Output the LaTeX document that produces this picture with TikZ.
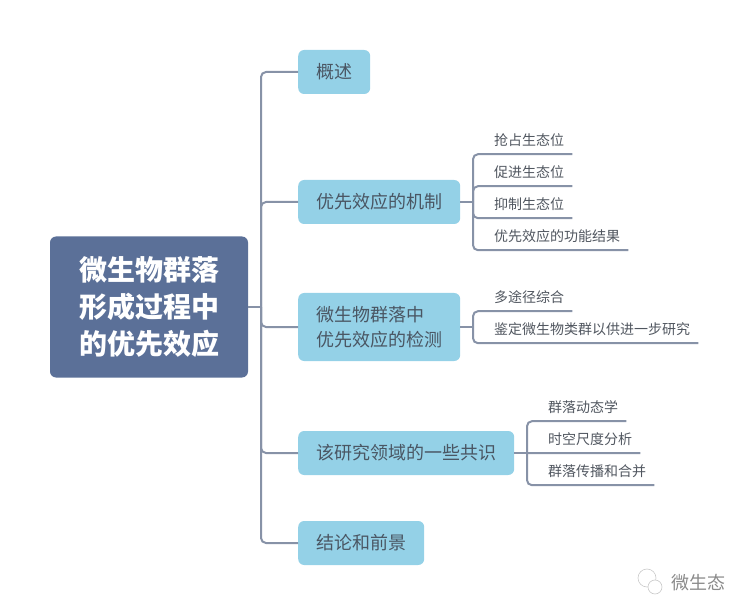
\documentclass[tikz,border=0pt]{standalone}
\usepackage{fontspec}
\setmainfont{Noto Sans CJK SC}
\usepackage{xcolor}
\definecolor{rootblue}{HTML}{5B7098}
\definecolor{topicblue}{HTML}{94D1E7}
\definecolor{linegrey}{HTML}{8792A7}
\definecolor{topictext}{HTML}{4A5663}
\definecolor{leaftext}{HTML}{50565F}
\definecolor{logogrey}{HTML}{8A8A8A}
\tikzset{
  root/.style={fill=rootblue,text=white,rounded corners=6pt,minimum width=198pt,minimum height=141pt,inner sep=0pt,align=center,font=\fontsize{28}{37}\selectfont\bfseries},
  topic/.style={fill=topicblue,text=topictext,rounded corners=6pt,anchor=west,minimum height=44pt,inner xsep=18pt,inner ysep=0pt,align=left,font=\fontsize{18}{25}\selectfont},
  leaf/.style={text=leaftext,anchor=west,minimum height=28pt,inner xsep=8pt,inner ysep=0pt,font=\fontsize{14}{14}\selectfont},
  branch/.style={draw=linegrey,line width=2pt,rounded corners=5pt},
  logotext/.style={text=logogrey,inner sep=0pt,font=\fontsize{18}{18}\selectfont},
  bubble/.style={draw=logogrey!45,line width=0.6pt,fill=white,inner sep=0pt}
}
\begin{document}
\begin{tikzpicture}[x=1pt,y=-1pt]
  \useasboundingbox (0,0) rectangle (748,615);

  \node[root] at (149,307) (rootbox){微生物群落\\形成过程中\\的优先效应};

  \node[topic] at (298,72) (intro){概述};
  \node[topic] at (298,202) (mech){优先效应的机制};
  \node[topic,minimum height=68pt] at (298,327) (detect){微生物群落中\\优先效应的检测};
  \node[topic] at (298,453) (shared){该研究领域的一些共识};
  \node[topic] at (298,543) (outlook){结论和前景};

  \node[leaf] at (486,140) (grab){抢占生态位};
  \node[leaf] at ([yshift=-32pt]grab.west) (promote){促进生态位};
  \node[leaf] at ([yshift=-32pt]promote.west) (inhibit){抑制生态位};
  \node[leaf] at ([yshift=-32pt]inhibit.west) (result){优先效应的功能结果};

  \node[leaf] at (486,297) (multi){多途径综合};
  \node[leaf] at ([yshift=-32pt]multi.west) (identify){鉴定微生物类群以供进一步研究};

  \node[leaf] at (540,407) (dynamics){群落动态学};
  \node[leaf] at ([yshift=-32pt]dynamics.west) (scale){时空尺度分析};
  \node[leaf] at ([yshift=-32pt]scale.west) (spread){群落传播和合并};

  % junctions
  \coordinate (trunk) at (261,307);
  \coordinate (mechj) at (473,202);
  \coordinate (detectj) at (473,327);
  \coordinate (sharedj) at (527,453);

  \draw[branch] (rootbox.east) -- (trunk);
  \draw[branch] (trunk) |- (intro.west);
  \draw[branch] (trunk) |- (mech.west);
  \draw[branch] (trunk) |- (detect.west);
  \draw[branch] (trunk) |- (shared.west);
  \draw[branch] (trunk) |- (outlook.west);

  \draw[branch] (mech.east) -- (mechj);
  \draw[branch] (mechj) |- (grab.south east);
  \draw[branch] (mechj) |- (promote.south east);
  \draw[branch] (mechj) |- (inhibit.south east);
  \draw[branch] (mechj) |- (result.south east);

  \draw[branch] (detect.east) -- (detectj);
  \draw[branch] (detectj) |- (multi.south east);
  \draw[branch] (detectj) |- (identify.south east);

  \draw[branch] (shared.east) -- (sharedj);
  \draw[branch] (sharedj) |- (dynamics.south east);
  \draw[branch] (sharedj) -- (scale.south east);
  \draw[branch] (sharedj) |- (spread.south east);

  % watermark
  \node[bubble,circle,minimum size=18pt] at (647,578) (bigbubble){};
  \node[bubble,circle,minimum size=14pt] at (655,587) (smallbubble){};
  \node[logotext] at (698,582.5) (logo){微生态};
\end{tikzpicture}
\end{document}
